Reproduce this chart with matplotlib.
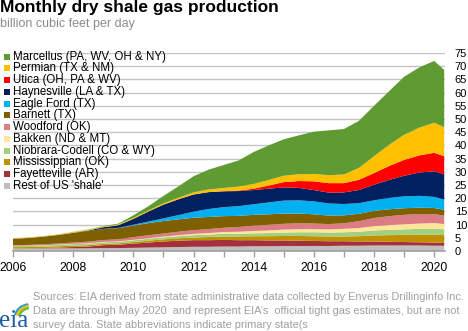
import numpy as np
import matplotlib
matplotlib.use("Agg")
import matplotlib.pyplot as plt
from matplotlib.patches import Rectangle, Arc

plt.rcParams['font.family'] = ['Liberation Sans', 'DejaVu Sans']

# ---- data (billion cubic feet per day), semi-annual readings + May 2020 ----
months = ['2006-01', '2006-07', '2007-01', '2007-07', '2008-01', '2008-07',
          '2009-01', '2009-07', '2010-01', '2010-07', '2011-01', '2011-07',
          '2012-01', '2012-07', '2013-01', '2013-07', '2014-01', '2014-07',
          '2015-01', '2015-07', '2016-01', '2016-07', '2017-01', '2017-07',
          '2018-01', '2018-07', '2019-01', '2019-07', '2020-01', '2020-05']

rest = [0.9, 0.9, 1.0, 1.0, 1.0, 1.0, 1.1, 1.1, 1.2, 1.3, 1.4, 1.5, 1.6, 1.6, 1.7,
        1.7, 1.8, 1.8, 1.9, 1.9, 1.9, 1.9, 2.0, 2.0, 2.1, 2.1, 2.1, 2.1, 2.0, 2.0]
fayetteville = [0.05, 0.1, 0.15, 0.3, 0.5, 0.7, 1.1, 1.3, 1.6, 1.9, 2.2, 2.4, 2.5, 2.5, 2.5,
                2.4, 2.3, 2.2, 2.1, 2.0, 1.9, 1.8, 1.7, 1.6, 1.5, 1.4, 1.3, 1.2, 1.2, 1.1]
mississippian = [0.5, 0.5, 0.5, 0.5, 0.5, 0.5, 0.5, 0.5, 0.6, 0.7, 0.8, 0.9, 1.0, 1.2, 1.3,
                 1.4, 1.5, 1.6, 1.7, 1.8, 1.8, 1.8, 1.8, 2.0, 2.3, 2.5, 2.7, 2.9, 3.0, 2.9]
niobrara = [0.5, 0.5, 0.5, 0.55, 0.6, 0.6, 0.6, 0.6, 0.65, 0.7, 0.75, 0.8, 0.9, 0.9, 1.0,
            1.0, 1.1, 1.2, 1.3, 1.4, 1.5, 1.5, 1.6, 1.7, 1.9, 2.0, 2.1, 2.2, 2.3, 2.2]
bakken = [0.05, 0.05, 0.05, 0.1, 0.1, 0.15, 0.15, 0.15, 0.2, 0.25, 0.3, 0.4, 0.5, 0.6, 0.7,
          0.8, 0.9, 1.0, 1.1, 1.2, 1.2, 1.2, 1.3, 1.4, 1.6, 1.8, 1.9, 2.0, 2.1, 2.0]
woodford = [0.2, 0.25, 0.3, 0.4, 0.5, 0.6, 0.7, 0.8, 1.0, 1.1, 1.2, 1.3, 1.4, 1.5, 1.6,
            1.8, 2.0, 2.1, 2.2, 2.2, 2.1, 2.0, 2.1, 2.6, 3.1, 3.4, 3.6, 3.6, 3.4, 3.2]
barnett = [2.3, 2.6, 2.9, 3.2, 3.6, 4.0, 4.2, 4.2, 4.4, 4.6, 4.7, 4.7, 4.7, 4.6, 4.4,
           4.2, 4.1, 4.0, 3.9, 3.7, 3.5, 3.2, 3.0, 2.8, 2.7, 2.6, 2.5, 2.4, 2.3, 2.2]
eagle_ford = [0, 0, 0, 0, 0, 0, 0.05, 0.1, 0.3, 0.6, 1.0, 1.6, 2.3, 3.0, 3.4,
              3.7, 4.0, 4.5, 4.9, 5.0, 4.9, 4.6, 4.3, 4.0, 4.0, 4.3, 4.5, 4.5, 4.2, 3.9]
haynesville = [0.05, 0.05, 0.05, 0.05, 0.1, 0.2, 0.6, 1.0, 2.2, 3.8, 5.2, 6.0, 6.5, 6.4, 6.0,
               5.7, 5.4, 5.2, 5.0, 4.7, 4.3, 4.1, 4.4, 5.0, 5.9, 6.8, 7.8, 8.8, 9.7, 9.6]
utica = [0, 0, 0, 0, 0, 0, 0, 0, 0, 0, 0, 0, 0, 0, 0.05,
         0.2, 0.5, 1.2, 2.0, 2.6, 3.3, 3.6, 3.5, 3.9, 4.4, 5.3, 6.0, 6.5, 7.0, 6.8]
permian = [0.2, 0.2, 0.2, 0.25, 0.3, 0.3, 0.3, 0.3, 0.35, 0.4, 0.5, 0.6, 0.8, 1.0, 1.2,
           1.5, 1.8, 2.1, 2.4, 2.6, 2.8, 3.0, 3.3, 4.5, 6.4, 8.0, 9.5, 10.5, 11.4, 11.0]
marcellus = [0, 0, 0, 0, 0.05, 0.1, 0.15, 0.3, 1.0, 1.6, 2.8, 4.3, 6.1, 7.5, 8.7,
             9.9, 12.1, 13.1, 13.8, 14.7, 16.0, 17.0, 17.2, 17.8, 19.1, 20.3, 22.0, 22.8, 23.4, 21.7]

labels = ["Rest of US 'shale'", 'Fayetteville (AR)', 'Mississippian (OK)',
          'Niobrara-Codell (CO & WY)', 'Bakken (ND & MT)', 'Woodford (OK)',
          'Barnett (TX)', 'Eagle Ford (TX)', 'Haynesville (LA & TX)',
          'Utica (OH, PA & WV)', 'Permian (TX & NM)', 'Marcellus (PA, WV, OH & NY)']
colors = ['#bfbfbf', '#a3303c', '#bf9000', '#a3d07f', '#ffe699', '#dc7c84',
          '#7f6000', '#00b0f0', '#002060', '#ff0000', '#ffc000', '#5f9a32']
year_ticks = list(range(2006, 2021))
ytick_vals = list(range(0, 80, 5))

series = [rest, fayetteville, mississippian, niobrara, bakken, woodford,
          barnett, eagle_ford, haynesville, utica, permian, marcellus]

x = [int(m[:4]) + (int(m[5:]) - 1) / 12 for m in months]

W, H = 468, 331
fig = plt.figure(figsize=(W / 100, H / 100), dpi=100)
ax = fig.add_axes([13 / W, (H - 251) / H, (445 - 13) / W, 198 / H])

ax.stackplot(x, *series, colors=colors, linewidth=0, zorder=2)

ax.set_xlim(2006, 2020.36)
ax.set_ylim(0, 75)
ax.set_yticks(ytick_vals)
ax.yaxis.tick_right()
ax.yaxis.grid(True, color='#c4c4c4', linewidth=1.0, zorder=0)
ax.set_axisbelow(True)
ax.tick_params(axis='y', length=0, pad=7, labelsize=8, colors='black')
ax.set_xticks(year_ticks)
ax.set_xticklabels([str(y) if y % 2 == 0 else '' for y in year_ticks])
ax.tick_params(axis='x', length=4, width=1, color='#a0a0a0', pad=4, labelsize=8.8)
for s in ['top', 'left', 'right']:
    ax.spines[s].set_visible(False)
ax.spines['bottom'].set_color('#a0a0a0')
ax.spines['bottom'].set_linewidth(1.2)
ax.spines['bottom'].set_zorder(3)

# title & subtitle
fig.text(0 / W, 1 - 0 / H, 'Monthly dry shale gas production', fontsize=12.5,
         fontweight='bold', va='top', ha='left')
fig.text(0 / W, 1 - 18 / H, 'billion cubic feet per day', fontsize=9,
         color='#8c8c8c', va='top', ha='left')

# legend (top to bottom: Marcellus ... Rest)
for i, (lab, col) in enumerate(zip(labels[::-1], colors[::-1])):
    yc = 56.7 + i * 11.73
    fig.patches.append(Rectangle((4 / W, 1 - (yc + 3) / H), 6 / W, 6 / H,
                                 transform=fig.transFigure, facecolor=col,
                                 edgecolor='none', figure=fig))
    fig.text(13 / W, 1 - yc / H, lab, fontsize=8.3, va='center', ha='left')

# source note
notes = ["Sources: EIA derived from state administrative data collected by Enverus Drillinginfo Inc.",
         "Data are through May 2020  and represent EIA\u2019s  official tight gas estimates, but are not",
         "survey data. State abbreviations indicate primary state(s"]
for i, line in enumerate(notes):
    fig.text(33 / W, 1 - (297 + i * 14) / H, line, fontsize=7.9, color='#a0a0a0',
             va='center', ha='left')

# eia logo
fig.text(-1 / W, 1 - 332 / H, 'eia', fontsize=18, color='#1f5aa6',
         family='Liberation Serif', va='bottom', ha='left')
for r, c in [(15, '#2e9ad8'), (13, '#f2c318'), (11, '#7cbf3a')]:
    fig.add_artist(Arc((30 / W, 1 - 318 / H), 2 * r / W, 2 * r * 0.9 / H, theta1=95,
                       theta2=165, transform=fig.transFigure, color=c, linewidth=2))

fig.savefig('out.png', dpi=100)
